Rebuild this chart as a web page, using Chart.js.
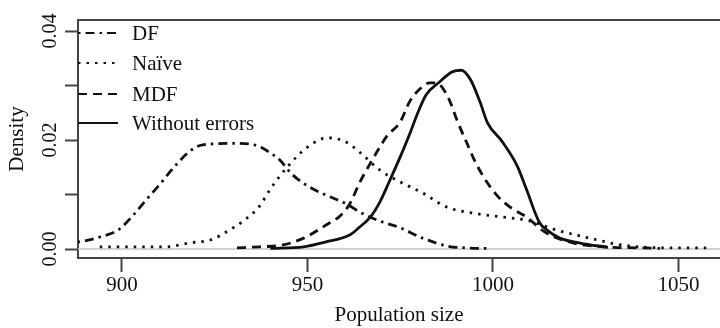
<!DOCTYPE html>
<html>
<head>
<meta charset="utf-8">
<script src="https://cdn.jsdelivr.net/npm/chart.js@4.4.1/dist/chart.umd.min.js"></script>
<style>
  html, body { margin: 0; padding: 0; background: #fff; }
  #wrap { width: 720px; height: 328px; }
</style>
</head>
<body>
<div id="wrap"><canvas id="densityChart" width="720" height="328"></canvas></div>
<script>
// density curves (population size vs density)
const DF_X = [888, 890, 894, 899, 903, 907, 910, 914, 918, 921, 925, 930, 935, 938, 940, 942, 946, 951, 955, 961, 964, 970, 975, 981, 988, 993, 999];
const DF_Y = [0.0013, 0.0015, 0.0022, 0.0035, 0.0062, 0.0094, 0.0117, 0.015, 0.0178, 0.019, 0.0193, 0.0194, 0.0192, 0.0185, 0.0176, 0.0167, 0.0136, 0.0112, 0.0099, 0.0081, 0.0068, 0.005, 0.0039, 0.002, 0.0005, 0.0002, 0.0001];

const NAIVE_X = [894, 902, 912, 918, 924, 929, 933, 937, 940, 944.5, 950, 955.5, 960.5, 964, 969.5, 975, 981, 987.5, 994.5, 1002, 1009, 1017, 1026, 1035, 1048, 1058];
const NAIVE_Y = [0.0004, 0.0004, 0.0004, 0.0011, 0.0017, 0.0035, 0.0053, 0.0078, 0.011, 0.015, 0.0187, 0.0204, 0.0196, 0.0178, 0.0145, 0.0123, 0.0103, 0.0077, 0.0066, 0.0059, 0.0053, 0.0035, 0.002, 0.0007, 0.0002, 0.0002];

const MDF_X = [931, 937, 943, 949, 955, 959, 961.5, 964, 967, 969.5, 971.5, 975, 977.5, 980.5, 983, 985, 988, 990.5, 993, 995, 997.5, 1001, 1005, 1009, 1014, 1021.5, 1030, 1040, 1045];
const MDF_Y = [0.0002, 0.0004, 0.0007, 0.002, 0.0044, 0.0062, 0.0084, 0.0121, 0.0158, 0.0187, 0.0208, 0.0233, 0.027, 0.0295, 0.0305, 0.0304, 0.0277, 0.0233, 0.0194, 0.0163, 0.0132, 0.0099, 0.0075, 0.0059, 0.0031, 0.0011, 0.0004, 0.0002, 0.0001];

const TRUE_X = [940, 949, 955, 961.5, 964, 967, 969.5, 972, 975, 977.5, 979.5, 982, 985.5, 989, 991.5, 994, 996.5, 998.5, 1002.5, 1006.5, 1009, 1012.5, 1014.5, 1018, 1023.5, 1031];
const TRUE_Y = [0.0001, 0.0004, 0.0013, 0.0026, 0.004, 0.0059, 0.0086, 0.0123, 0.0169, 0.021, 0.0246, 0.0283, 0.0306, 0.0325, 0.0328, 0.031, 0.027, 0.0232, 0.0197, 0.0153, 0.011, 0.0049, 0.0035, 0.002, 0.0011, 0.0003];

const X_TICKS = [900, 950, 1000, 1050];
const Y_TICKS = [0, 0.01, 0.02, 0.03, 0.04];
const Y_LABELED = [0, 0.02, 0.04];

const INK = '#111';
const AXIS = '#444';
const FONT = '"Liberation Serif", "Times New Roman", serif';

const pts = (xs, ys) => xs.map((x, i) => ({ x: x, y: ys[i] }));

const lineStyle = {
  borderColor: INK,
  borderWidth: 2.8,
  pointRadius: 0,
  fill: false,
  cubicInterpolationMode: 'monotone',
};

// zero line + top border of the box, R style
const boxPlugin = {
  id: 'box',
  beforeDatasetsDraw(chart) {
    const { ctx, chartArea: a, scales } = chart;
    const y0 = scales.y.getPixelForValue(0);
    ctx.save();
    ctx.strokeStyle = '#c4c4c4';
    ctx.lineWidth = 1.5;
    ctx.beginPath();
    ctx.moveTo(a.left, y0);
    ctx.lineTo(a.right, y0);
    ctx.stroke();
    ctx.strokeStyle = AXIS;
    ctx.lineWidth = 2;
    ctx.beginPath();
    ctx.moveTo(a.left, a.top);
    ctx.lineTo(a.right, a.top);
    ctx.stroke();
    ctx.restore();
  },
};

// legend sitting inside the plot, top-left against the axis
const insideLegend = {
  id: 'insideLegend',
  afterDatasetsDraw(chart) {
    const { ctx, chartArea: a } = chart;
    const rowY = [13, 43, 74, 103];
    ctx.save();
    ctx.font = '21px ' + FONT;
    ctx.textBaseline = 'middle';
    ctx.fillStyle = INK;
    chart.data.datasets.forEach((ds, i) => {
      const y = a.top + rowY[i];
      ctx.strokeStyle = INK;
      ctx.lineWidth = 2;
      ctx.setLineDash(ds.borderDash || []);
      ctx.beginPath();
      ctx.moveTo(a.left, y);
      ctx.lineTo(a.left + 40, y);
      ctx.stroke();
      ctx.setLineDash([]);
      ctx.fillText(ds.label, a.left + 54, y + 1);
    });
    ctx.restore();
  },
};

new Chart(document.getElementById('densityChart'), {
  type: 'line',
  data: {
    datasets: [
      { ...lineStyle, label: 'DF', data: pts(DF_X, DF_Y), borderDash: [2.5, 5, 9, 5] },
      { ...lineStyle, label: 'Naïve', data: pts(NAIVE_X, NAIVE_Y), borderDash: [2.5, 6] },
      { ...lineStyle, label: 'MDF', data: pts(MDF_X, MDF_Y), borderDash: [9, 6] },
      { ...lineStyle, label: 'Without errors', data: pts(TRUE_X, TRUE_Y) },
    ],
  },
  options: {
    responsive: false,
    animation: false,
    layout: { padding: { top: 20, right: 0, left: 0, bottom: 0 } },
    plugins: { legend: { display: false }, tooltip: { enabled: false } },
    scales: {
      x: {
        type: 'linear',
        min: 888.14,
        max: 1061.2,
        afterBuildTicks: (s) => { s.ticks = X_TICKS.map(v => ({ value: v })); },
        afterFit: (s) => { s.height = 70; },
        border: { display: true, color: AXIS, width: 2 },
        grid: { drawOnChartArea: false, drawTicks: true, tickLength: 14, tickWidth: 2, tickColor: AXIS },
        ticks: { color: INK, padding: 1, maxRotation: 0, font: { family: FONT, size: 21 }, callback: (v) => String(v) },
        title: { display: true, text: 'Population size', color: INK, padding: { top: 0, bottom: 0 }, font: { family: FONT, size: 21 } },
      },
      y: {
        min: -0.00165,
        max: 0.04202,
        afterBuildTicks: (s) => { s.ticks = Y_TICKS.map(v => ({ value: v })); },
        afterFit: (s) => { s.width = 78; },
        border: { display: true, color: AXIS, width: 2 },
        grid: { drawOnChartArea: false, drawTicks: true, tickLength: 13, tickWidth: 2, tickColor: AXIS },
        ticks: {
          color: INK,
          padding: -3,
          minRotation: 90,
          maxRotation: 90,
          crossAlign: 'center',
          font: { family: FONT, size: 20 },
          callback: (v) => (Y_LABELED.some(t => Math.abs(t - v) < 1e-9) ? v.toFixed(2) : ''),
        },
        title: { display: true, text: 'Density', color: INK, padding: { top: 5, bottom: 0 }, font: { family: FONT, size: 21 } },
      },
    },
  },
  plugins: [boxPlugin, insideLegend],
});
</script>
</body>
</html>
